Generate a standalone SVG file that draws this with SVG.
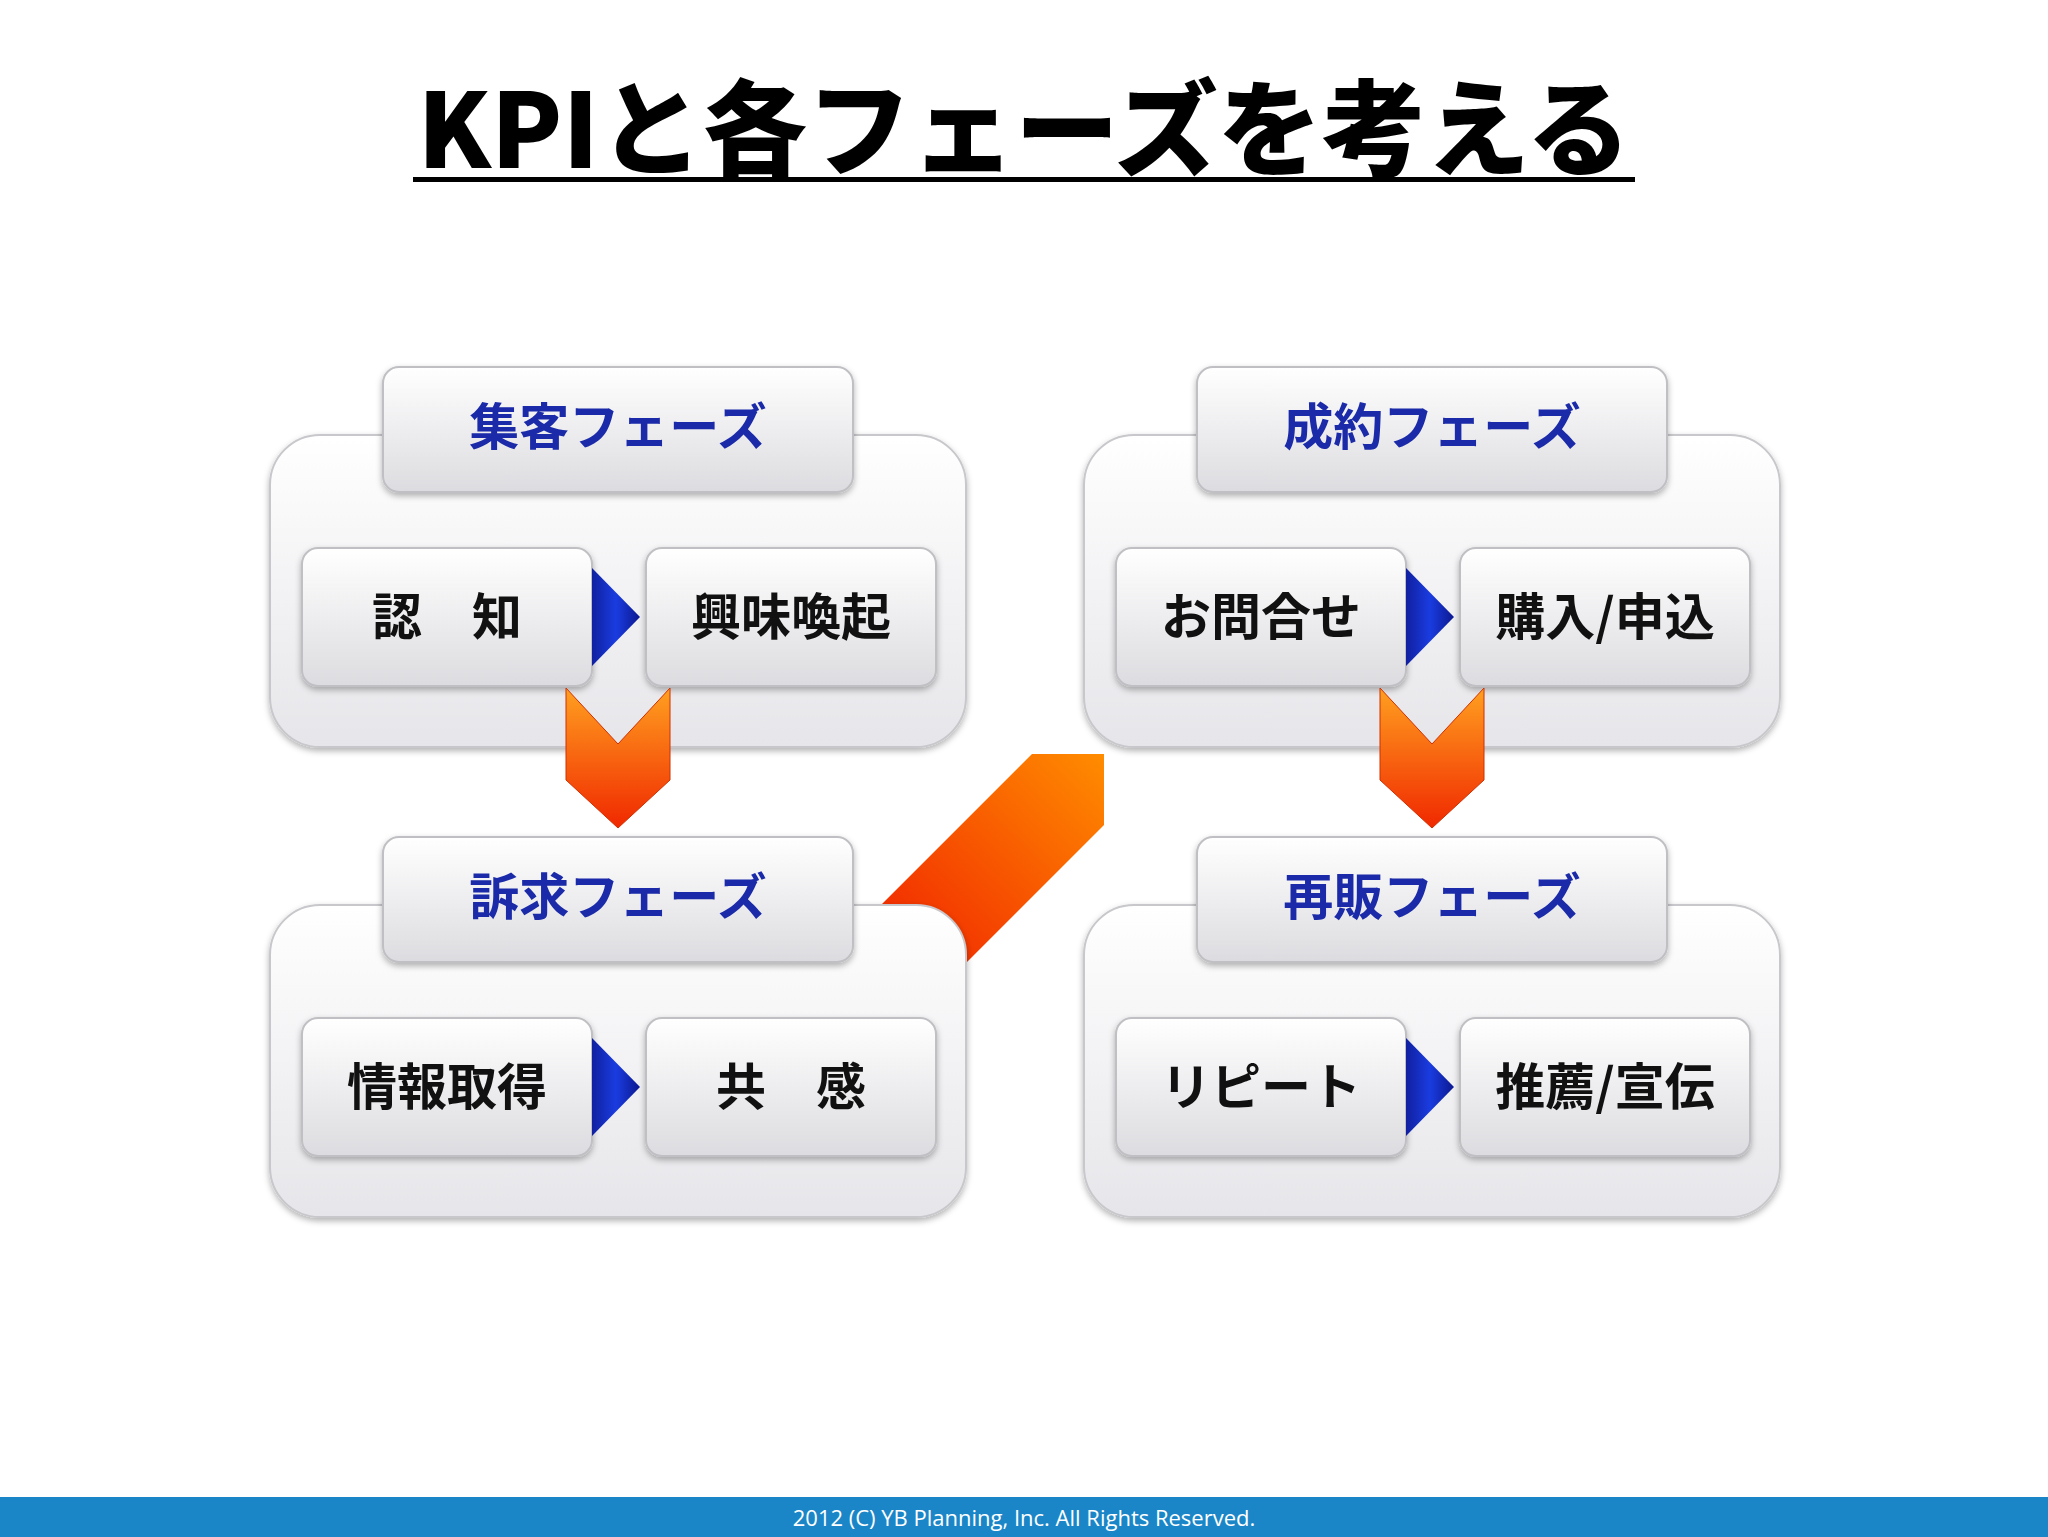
<svg xmlns="http://www.w3.org/2000/svg" width="2048" height="1537" viewBox="0 0 2048 1537">
<defs>
<linearGradient id="gb" x1="0" y1="0" x2="0" y2="1"><stop offset="0" stop-color="#ffffff"/><stop offset="1" stop-color="#e6e6ea"/></linearGradient>
<linearGradient id="gi" x1="0" y1="0" x2="0" y2="1"><stop offset="0" stop-color="#ffffff"/><stop offset="1" stop-color="#dcdce0"/></linearGradient>
<linearGradient id="gt" x1="0" y1="0" x2="1" y2="0"><stop offset="0" stop-color="#1020a0"/><stop offset="0.5" stop-color="#1a3ce0"/><stop offset="1" stop-color="#0c1890"/></linearGradient>
<linearGradient id="go" x1="0" y1="0" x2="0" y2="1"><stop offset="0" stop-color="#ffa020"/><stop offset="1" stop-color="#f02800"/></linearGradient>
<linearGradient id="gd" x1="1" y1="0" x2="0" y2="1"><stop offset="0" stop-color="#ff8c00"/><stop offset="1" stop-color="#f02000"/></linearGradient>
<filter id="sh" x="-10%" y="-10%" width="120%" height="130%"><feDropShadow dx="0" dy="3" stdDeviation="3" flood-color="#000" flood-opacity="0.3"/></filter>
</defs>
<style>
.outer{fill:url(#gb);stroke:#c8c8cc;stroke-width:2;filter:url(#sh)}
.box{fill:url(#gi);stroke:#c0c0c4;stroke-width:2;filter:url(#sh)}
.h{font-family:"Noto Sans CJK JP",sans-serif;font-weight:bold;font-size:50px;fill:#1a2aa8;text-anchor:middle}
.t{font-family:"Noto Sans CJK JP",sans-serif;font-weight:bold;font-size:50px;fill:#111;text-anchor:middle}
.tri{fill:url(#gt)}
.chev{fill:url(#go);stroke:#d03000;stroke-width:1}
</style>
<rect width="2048" height="1537" fill="#fff"/>
<text x="1024" y="168" font-family="'Noto Sans CJK JP',sans-serif" font-weight="900" font-size="104" text-anchor="middle" fill="#000">KPIと各フェーズを考える</text>
<rect x="413" y="177" width="1222" height="5" fill="#000"/>
<g id="connectors">
<polygon points="1032,754 1104,754 1104,825 960,969 882,904" fill="url(#gd)"/>
</g>
<g id="phase1">
<rect class="outer" x="270" y="435" width="696" height="312" rx="50"/>
<rect class="box" x="383" y="367" width="470" height="125" rx="16"/>
<text class="h" x="618" y="445">集客フェーズ</text>
<rect class="box" x="302" y="548" width="290" height="138" rx="16"/>
<text class="t" x="447" y="635">認　知</text>
<rect class="box" x="646" y="548" width="290" height="138" rx="16"/>
<text class="t" x="791" y="635">興味喚起</text>
<polygon class="tri" points="592,568 640,617 592,666"/>
</g>
<g id="phase2">
<rect class="outer" x="1084" y="435" width="696" height="312" rx="50"/>
<rect class="box" x="1197" y="367" width="470" height="125" rx="16"/>
<text class="h" x="1432" y="445">成約フェーズ</text>
<rect class="box" x="1116" y="548" width="290" height="138" rx="16"/>
<text class="t" x="1261" y="635">お問合せ</text>
<rect class="box" x="1460" y="548" width="290" height="138" rx="16"/>
<text class="t" x="1605" y="635">購入/申込</text>
<polygon class="tri" points="1406,568 1454,617 1406,666"/>
</g>
<g id="phase3">
<rect class="outer" x="270" y="905" width="696" height="312" rx="50"/>
<rect class="box" x="383" y="837" width="470" height="125" rx="16"/>
<text class="h" x="618" y="915">訴求フェーズ</text>
<rect class="box" x="302" y="1018" width="290" height="138" rx="16"/>
<text class="t" x="447" y="1105">情報取得</text>
<rect class="box" x="646" y="1018" width="290" height="138" rx="16"/>
<text class="t" x="791" y="1105">共　感</text>
<polygon class="tri" points="592,1038 640,1087 592,1136"/>
</g>
<g id="phase4">
<rect class="outer" x="1084" y="905" width="696" height="312" rx="50"/>
<rect class="box" x="1197" y="837" width="470" height="125" rx="16"/>
<text class="h" x="1432" y="915">再販フェーズ</text>
<rect class="box" x="1116" y="1018" width="290" height="138" rx="16"/>
<text class="t" x="1261" y="1105">リピート</text>
<rect class="box" x="1460" y="1018" width="290" height="138" rx="16"/>
<text class="t" x="1605" y="1105">推薦/宣伝</text>
<polygon class="tri" points="1406,1038 1454,1087 1406,1136"/>
</g>
<g id="chevrons">
<polygon class="chev" points="566,688 618,744 670,688 670,780 618,828 566,780"/>
<polygon class="chev" points="1380,688 1432,744 1484,688 1484,780 1432,828 1380,780"/>
</g>
<rect x="0" y="1497" width="2048" height="40" fill="#1a86c8"/>
<text x="1024" y="1526" font-family="'Open Sans',sans-serif" font-size="22" fill="#fff" text-anchor="middle">2012 (C) YB Planning, Inc.  All Rights Reserved.</text>
</svg>
